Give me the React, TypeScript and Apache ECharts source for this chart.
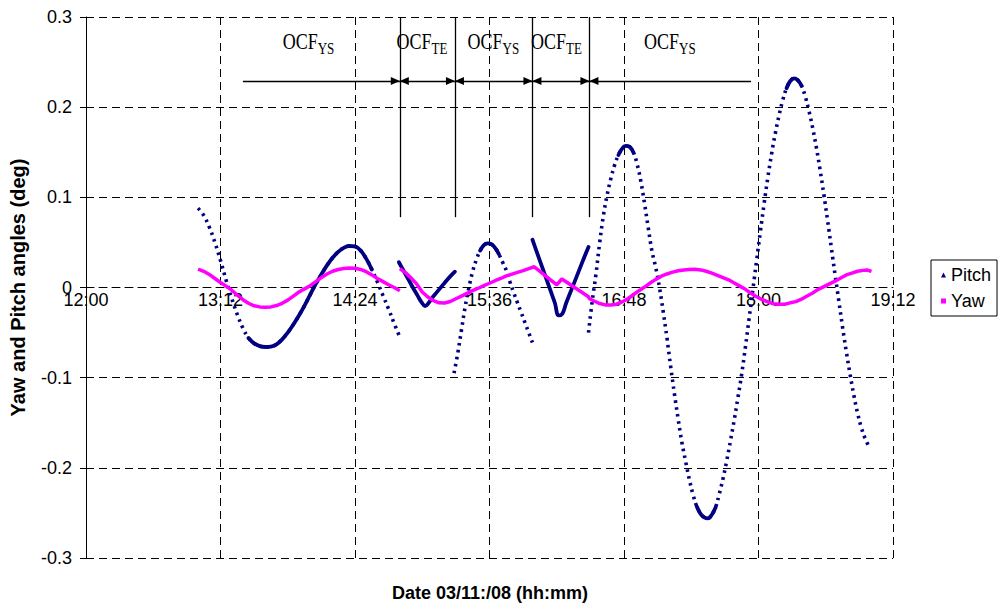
import React, { useEffect, useRef } from "react";
import * as echarts from "echarts";

// ---------- axes (x in minutes of the day) ----------
const X_MIN = 720; // 12:00
const X_MAX = 1152; // 19:12
const X_STEP = 72;
const Y_MIN = -0.3;
const Y_MAX = 0.3;
const Y_STEP = 0.1;
const X_TITLE = "Date 03/11:/08 (hh:mm)";
const Y_TITLE = "Yaw and Pitch angles (deg)";

// ---------- Pitch (deg) ----------
const pitchYS1Start = 780;
const pitchYS1Step = 3;
const pitchYS1 = [
  0.088, 0.08, 0.067, 0.05, 0.03, 0.008, -0.012, -0.03, -0.045, -0.056,
  -0.062, -0.065, -0.066, -0.0655, -0.063, -0.0575, -0.05, -0.041, -0.031, -0.02,
  -0.008, 0.004, 0.0145, 0.0245, 0.033, 0.0395, 0.044, 0.046, 0.0455, 0.041,
  0.032, 0.02, 0.006, -0.009, -0.024, -0.04, -0.055,
];
const pitchTE1Start = 887.5;
const pitchTE1Step = 2;
const pitchTE1 = [
  0.028, 0.0205, 0.013, 0.0055, -0.002, -0.009, -0.016, -0.0205, -0.017, -0.011,
  -0.006, -0.001, 0.004, 0.009, 0.0135, 0.0175,
];
const pitchYS2Start = 917;
const pitchYS2Step = 2;
const pitchYS2 = [
  -0.095, -0.073, -0.047, -0.021, 0.0, 0.018, 0.031, 0.041, 0.047, 0.049,
  0.048, 0.044, 0.037, 0.028, 0.019, 0.006, -0.006, -0.017, -0.028, -0.039,
  -0.05, -0.061,
];
const pitchTE2Start = 959;
const pitchTE2Step = 2;
const pitchTE2 = [
  0.053, 0.0413, 0.0296, 0.0179, 0.0062, -0.0055, -0.0172, -0.031, -0.029, -0.0175,
  -0.007, 0.0035, 0.014, 0.0245, 0.035, 0.045,
];
const pitchYS3Start = 989;
const pitchYS3Step = 2;
const pitchYS3 = [
  -0.05, -0.015, 0.015, 0.05, 0.08, 0.103, 0.121, 0.136, 0.147, 0.154,
  0.157, 0.156, 0.15, 0.137, 0.118, 0.093, 0.066, 0.04, 0.022, 0.0,
  -0.027, -0.056, -0.088, -0.118, -0.146, -0.172, -0.193, -0.213, -0.23, -0.243,
  -0.251, -0.255, -0.256, -0.252, -0.244, -0.229, -0.212, -0.192, -0.17, -0.147,
  -0.122, -0.096, -0.066, -0.034, -0.002, 0.03, 0.062, 0.093, 0.122, 0.148,
  0.171, 0.191, 0.208, 0.221, 0.229, 0.232, 0.23, 0.224, 0.212, 0.196,
  0.177, 0.155, 0.13, 0.103, 0.074, 0.044, 0.014, -0.015, -0.044, -0.071,
  -0.096, -0.119, -0.139, -0.155, -0.167, -0.176,
];
// time spans (minutes) where pitch samples crowd into a solid trace
const pitchDenseRanges = [
  [806, 874],
  [930, 941],
  [1004, 1014],
  [1047, 1057],
  [1094, 1104],
];

// ---------- Yaw (deg) ----------
const yawATimes = [
  780, 783, 786, 789, 792, 795, 798, 801, 804, 807, 810, 813, 816, 819, 822, 825,
  828, 831, 834, 837, 840, 843, 846, 849, 852, 855, 858, 861, 864, 867, 870, 873,
  876, 879, 882, 885, 888,
];
const yawA = [
  0.0205, 0.018, 0.0145, 0.01, 0.0055, 0.0015, -0.003, -0.0085, -0.0135, -0.0175,
  -0.0203, -0.0215, -0.0218, -0.0215, -0.02, -0.0175, -0.014, -0.0095, -0.005, -0.0015,
  0.002, 0.0065, 0.011, 0.015, 0.018, 0.02, 0.021, 0.0215, 0.0213, 0.02,
  0.0175, 0.014, 0.01, 0.0065, 0.003, 0.0, -0.0035,
];
const yawBTimes = [
  888, 891, 894, 897, 900, 903, 906, 909, 912, 915, 918, 921, 924, 927, 930, 933,
  936, 939, 942, 945, 948, 951, 954, 957, 960, 963, 966, 969, 972, 974.7, 978, 981,
  984, 987, 989, 989.5, 992, 995, 998, 1001, 1004, 1007, 1010, 1013, 1016, 1019,
  1022, 1025, 1028, 1031, 1034, 1037, 1040, 1043, 1046, 1049, 1052, 1055, 1058,
  1061, 1064, 1067, 1070, 1073, 1076, 1079, 1082, 1085, 1088, 1091, 1094, 1097,
  1100, 1103, 1106, 1109, 1112, 1115, 1118, 1121, 1124, 1127, 1130, 1133, 1136,
  1138, 1140.5,
];
const yawB = [
  0.021, 0.0165, 0.0105, 0.004, -0.005, -0.0105, -0.0145, -0.017, -0.0172, -0.0155,
  -0.0125, -0.0095, -0.0065, -0.0035, -0.0008, 0.002, 0.0047, 0.0075, 0.01, 0.0128,
  0.0148, 0.0168, 0.0187, 0.021, 0.023, 0.018, 0.013, 0.008, 0.003, 0.0094,
  0.0049, 0.0008, -0.0034, -0.0075, -0.0102, -0.0125, -0.015, -0.0178, -0.0193, -0.0195,
  -0.0185, -0.016, -0.0125, -0.008, -0.0035, 0.0005, 0.005, 0.009, 0.0125, 0.015,
  0.017, 0.0185, 0.0195, 0.02, 0.0202, 0.0195, 0.018, 0.016, 0.0135, 0.011,
  0.0085, 0.005, 0.0015, -0.002, -0.0065, -0.0102, -0.0135, -0.016, -0.018, -0.0186,
  -0.0185, -0.017, -0.0157, -0.013, -0.0095, -0.006, -0.002, 0.001, 0.004, 0.007,
  0.0105, 0.0139, 0.016, 0.018, 0.019, 0.0194, 0.0178,
];

// ---------- OCF phase annotations ----------
const ocfBounds = [888, 917.5, 959, 989.5];
const ocfArrowStart = 804;
const ocfArrowEnd = 1076;
const ocfArrowLevel = 0.229;
const ocfLineBottom = 0.078;
const ocfLabels = [
  { sub: "YS", t: 844 },
  { sub: "TE", t: 905 },
  { sub: "YS", t: 943 },
  { sub: "TE", t: 977 },
  { sub: "YS", t: 1037.5 },
];
const ocfLabelLevel = 0.2728;
const ocfSubLevel = 0.265;

const PITCH_COLOR = "#000080";
const YAW_COLOR = "#FF00FF";
const SANS = '"Liberation Sans", Arial, sans-serif';
const SERIF = '"Liberation Serif", "Times New Roman", serif';

const fmtTime = (v: number) => {
  const h = Math.floor(v / 60 + 1e-9);
  const m = Math.round(v - h * 60);
  return `${h}:${m < 10 ? "0" + m : m}`;
};

export default function App() {
  const ref = useRef<HTMLDivElement>(null);

  useEffect(() => {
    const chart = echarts.init(ref.current!, null, { renderer: "svg" });

    const seg = (start: number, step: number, vals: number[]) =>
      vals.map((v, i) => [start + i * step, v]);
    const pairs = (ts: number[], vs: number[]) => ts.map((t, i) => [t, vs[i]]);

    const ys1 = seg(pitchYS1Start, pitchYS1Step, pitchYS1);
    const te1 = seg(pitchTE1Start, pitchTE1Step, pitchTE1);
    const ys2 = seg(pitchYS2Start, pitchYS2Step, pitchYS2);
    const te2 = seg(pitchTE2Start, pitchTE2Step, pitchTE2);
    const ys3 = seg(pitchYS3Start, pitchYS3Step, pitchYS3);

    const dotted = { color: PITCH_COLOR, width: 3.6, type: [2.6, 4.4], cap: "butt" };
    const solid = { color: PITCH_COLOR, width: 3.8, type: "solid", cap: "round" };

    const pitchSeries = (data: number[][], lineStyle: any) => ({
      type: "line",
      name: "Pitch",
      data,
      color: PITCH_COLOR,
      symbol: "none",
      smooth: 0.4,
      silent: true,
      lineStyle,
      z: 2,
    });

    const dense = pitchDenseRanges.map(([a, b]) =>
      [...ys1, ...ys2, ...ys3].filter((p) => p[0] >= a && p[0] <= b)
    );

    const arrowData: any[] = [];
    const lvl = ocfArrowLevel;
    arrowData.push([
      { coord: [ocfArrowStart, lvl], symbol: "none" },
      { coord: [ocfBounds[0], lvl], symbol: "triangle" },
    ]);
    for (let i = 0; i < ocfBounds.length - 1; i++) {
      arrowData.push([
        { coord: [ocfBounds[i], lvl], symbol: "triangle" },
        { coord: [ocfBounds[i + 1], lvl], symbol: "triangle" },
      ]);
    }
    arrowData.push([
      { coord: [ocfBounds[ocfBounds.length - 1], lvl], symbol: "triangle" },
      { coord: [ocfArrowEnd, lvl], symbol: "none" },
    ]);
    const boundData = ocfBounds.map((t) => [
      { coord: [t, ocfLineBottom], symbol: "none" },
      { coord: [t, Y_MAX], symbol: "none" },
    ]);

    const option: any = {
      animation: false,
      backgroundColor: "#fff",
      grid: { left: 86, top: 17, width: 807, height: 541, show: false },
      title: [
        {
          text: X_TITLE,
          left: 490,
          top: 583,
          padding: 0,
          textAlign: "center",
          textStyle: { fontFamily: SANS, fontSize: 18, fontWeight: "bold", color: "#000", lineHeight: 20 },
        },
      ],
      legend: {
        orient: "vertical",
        left: 931,
        top: 260,
        data: [
          { name: "Pitch", icon: "triangle" },
          { name: "Yaw", icon: "rect" },
        ],
        itemWidth: 5,
        itemHeight: 5,
        itemGap: 8,
        padding: [6, 6, 6, 10],
        borderColor: "#000",
        borderWidth: 1,
        backgroundColor: "#fff",
        textStyle: { fontFamily: SANS, fontSize: 18, color: "#000" },
      },
      xAxis: {
        type: "value",
        min: X_MIN,
        max: X_MAX,
        interval: X_STEP,
        position: "bottom",
        offset: -270.5,
        axisLine: { show: true, onZero: false, lineStyle: { color: "#000", type: [8, 5], width: 1 } },
        axisTick: { show: false },
        axisLabel: {
          formatter: fmtTime,
          fontFamily: SANS,
          fontSize: 18,
          color: "#000",
          margin: 3,
          showMinLabel: true,
          showMaxLabel: true,
        },
        splitLine: { show: true, lineStyle: { color: "#000", type: [8, 5], width: 1 } },
      },
      yAxis: {
        type: "value",
        min: Y_MIN,
        max: Y_MAX,
        interval: Y_STEP,
        name: Y_TITLE,
        nameLocation: "middle",
        nameRotate: 90,
        nameGap: 58,
        nameTextStyle: { fontFamily: SANS, fontSize: 20, fontWeight: "bold", color: "#000" },
        axisLine: { show: true, onZero: false, lineStyle: { color: "#000", width: 1 } },
        axisTick: { show: true, length: 6, lineStyle: { color: "#000" } },
        axisLabel: {
          formatter: (v: number) => (Math.abs(v) < 1e-9 ? "0" : v.toFixed(1)),
          fontFamily: SANS,
          fontSize: 18,
          color: "#000",
          margin: 14,
        },
        splitLine: { show: true, lineStyle: { color: "#000", type: [8, 5], width: 1 } },
      },
      series: [
        pitchSeries(ys1, dotted),
        pitchSeries(ys2, dotted),
        pitchSeries(ys3, dotted),
        ...dense.map((d) => pitchSeries(d, solid)),
        pitchSeries(te1, solid),
        pitchSeries(te2, solid),
        {
          type: "line",
          name: "Yaw",
          data: pairs(yawATimes, yawA),
          color: YAW_COLOR,
          symbol: "none",
          silent: true,
          lineStyle: { color: YAW_COLOR, width: 3.5 },
          z: 3,
          markLine: {
            silent: true,
            animation: false,
            symbolSize: [8, 9],
            symbolOffset: [
              [0, 4.5],
              [0, 4.5],
            ],
            label: { show: false },
            emphasis: { disabled: true },
            lineStyle: { color: "#000", width: 1.3, type: "solid" },
            data: [...boundData, ...arrowData],
          },
        },
        {
          type: "line",
          name: "Yaw",
          data: pairs(yawBTimes, yawB),
          color: YAW_COLOR,
          symbol: "none",
          silent: true,
          lineStyle: { color: YAW_COLOR, width: 3.5 },
          z: 3,
        },
      ],
    };
    chart.setOption(option);

    const graphics: any[] = [];
    ocfLabels.forEach((l) => {
      const p = chart.convertToPixel({ gridIndex: 0 }, [l.t, ocfLabelLevel]) as number[];
      const s = chart.convertToPixel({ gridIndex: 0 }, [l.t, ocfSubLevel]) as number[];
      graphics.push({
        type: "text",
        x: p[0],
        y: p[1],
        scaleY: 1.3,
        silent: true,
        style: {
          text: "OCF",
          fontFamily: SERIF,
          fontSize: 18,
          fill: "#000",
          align: "right",
          verticalAlign: "middle",
        },
      });
      graphics.push({
        type: "text",
        x: s[0],
        y: s[1],
        scaleY: 1.25,
        silent: true,
        style: {
          text: l.sub,
          fontFamily: SERIF,
          fontSize: 13,
          fill: "#000",
          align: "left",
          verticalAlign: "middle",
        },
      });
    });
    chart.setOption({ graphic: graphics });

    return () => chart.dispose();
  }, []);

  return (
    <div
      ref={ref}
      style={{ position: "fixed", left: 0, top: 0, width: 1003, height: 605, background: "#fff" }}
    />
  );
}
